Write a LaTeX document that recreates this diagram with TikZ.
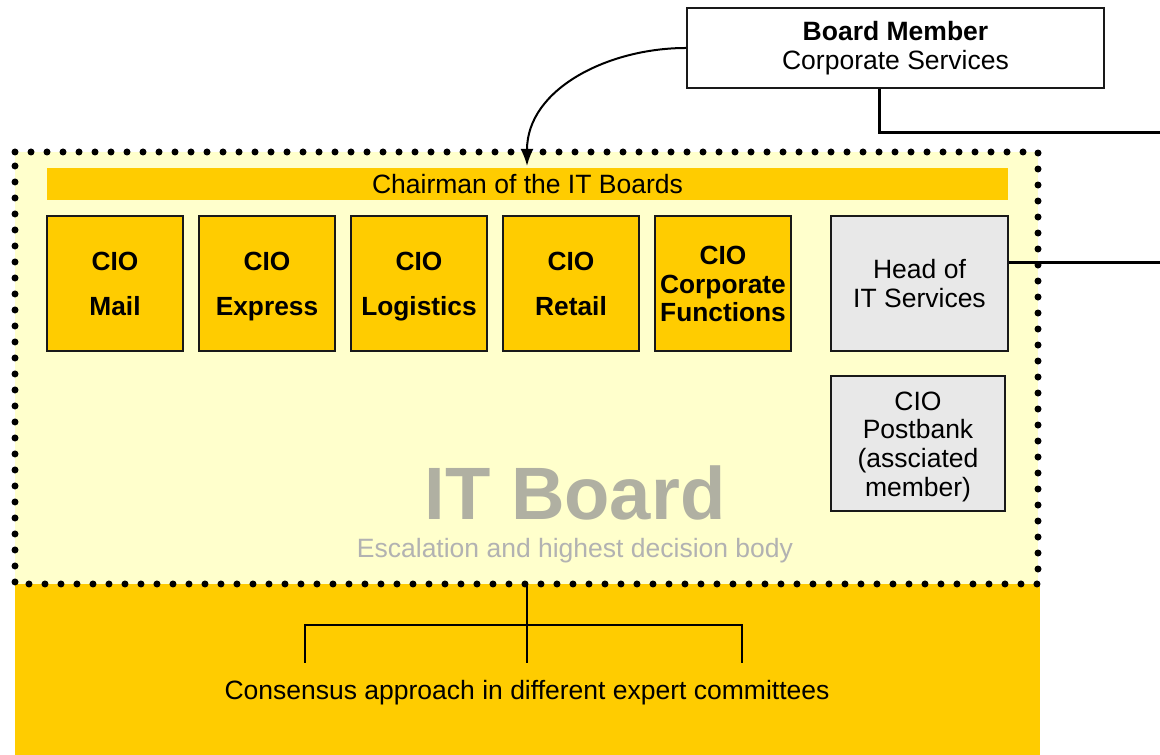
\documentclass[tikz,border=0pt]{standalone}
\usepackage{fontspec}
\setmainfont{Liberation Sans}
\usetikzlibrary{arrows.meta}
\definecolor{lightyel}{HTML}{FFFFCC}
\definecolor{darkyel}{HTML}{FFCC00}
\definecolor{boxgray}{HTML}{E8E8E8}
\definecolor{bigtext}{HTML}{B0B0A2}
\definecolor{subtext}{HTML}{B2B2B2}
\tikzset{
  txt/.style={font=\fontsize{26.6}{28.5}\selectfont, align=center, inner sep=0pt},
  ciobox/.style={draw=black!90, line width=2.5bp, fill=darkyel, minimum width=136bp, minimum height=135bp, inner sep=0pt, align=center,
    font=\bfseries\fontsize{26.4}{45}\selectfont},
  graybox/.style={draw=black!90, line width=2.5bp, fill=boxgray, minimum height=135bp, inner sep=0pt, align=center,
    font=\fontsize{26.6}{28.8}\selectfont},
  conn/.style={line width=3bp, black},
  tree/.style={line width=2.5bp, black},
  dotborder/.style={line width=7bp, line cap=round, dash pattern=on 0bp off 16bp}
}
\newcommand{\descph}{\vphantom{p}}
\newcommand{\ascph}{\rule{0pt}{25bp}}
\begin{document}
\begin{tikzpicture}[x=1bp,y=1bp]
\useasboundingbox (0,0) rectangle (1160,755);
% regions
\fill[darkyel] (15,0) rectangle (1040,171);
\fill[lightyel] (15,171) rectangle (1038,603);
\draw[dotborder] (15,603) -- (1038,603) -- (1038,171) -- (15,171) -- cycle;
% chairman bar
\node[fill=darkyel, minimum width=961bp, minimum height=32bp, inner sep=0pt, font=\fontsize{26.6}{28.5}\selectfont] (chair) at (527.5,571) {Chairman of the IT Boards};
% CIO boxes
\node[ciobox] (mail) at (115,471.5) {\ascph CIO\\Mail\descph};
\node[ciobox] (express) at (267,471.5) {\ascph CIO\\Express\descph};
\node[ciobox] (logistics) at (419,471.5) {\ascph CIO\\Logistics\descph};
\node[ciobox] (retail) at (571,471.5) {\ascph CIO\\Retail\descph};
\node[ciobox, font=\bfseries\fontsize{26.4}{28.8}\selectfont] (corp) at (723,471.5) {\ascph CIO\\Corporate\\Functions\descph};
\node[graybox, minimum width=177bp] (heads) at (919.5,471.5) {\ascph Head of\\IT Services\descph};
\node[graybox, minimum width=174bp] (postbank) at (918,311.5) {\ascph CIO\\Postbank\\(assciated\\member)\descph};
% IT Board title
\node[inner sep=0pt, font=\bfseries\fontsize{74.5}{80}\selectfont, text=bigtext] (itboard) at (575,262) {IT Board};
\node[txt, text=subtext] (escal) at (575,204) {Escalation and highest decision body};
% board member
\node[draw=black!90, line width=2bp, fill=white, minimum width=417bp, minimum height=80bp, inner sep=0pt, align=center, font=\fontsize{26.6}{28.5}\selectfont] (board) at (895.5,707) {\textbf{Board Member}\\Corporate Services};
% curved arrow
\coordinate (arrowend) at (527,589);
\draw[line width=2bp, -{Latex[length=17bp,width=13bp]}] (board.west) to[out=180,in=90] (arrowend);
% lines to the right
\coordinate (bturn) at (879,622);
\coordinate (bright) at (1160,622);
\coordinate (hright) at (1160,492);
\draw[conn] (board.south -| bturn) -- (bturn) -- (bright);
\draw[conn] (heads.east |- hright) -- (hright);
% committees tree
\node[txt] (consensus) at (527,62) {Consensus approach in different expert committees};
\coordinate (treetop) at (527,171);
\coordinate (treemid) at (527,130);
\coordinate (treeL) at (305,130);
\coordinate (treeR) at (742,130);
\coordinate (endL) at (305,92);
\coordinate (endM) at (527,92);
\coordinate (endR) at (742,92);
\draw[tree] (treetop) -- (endM);
\draw[tree] (endL) -- (treeL) -- (treeR) -- (endR);
\end{tikzpicture}
\end{document}
